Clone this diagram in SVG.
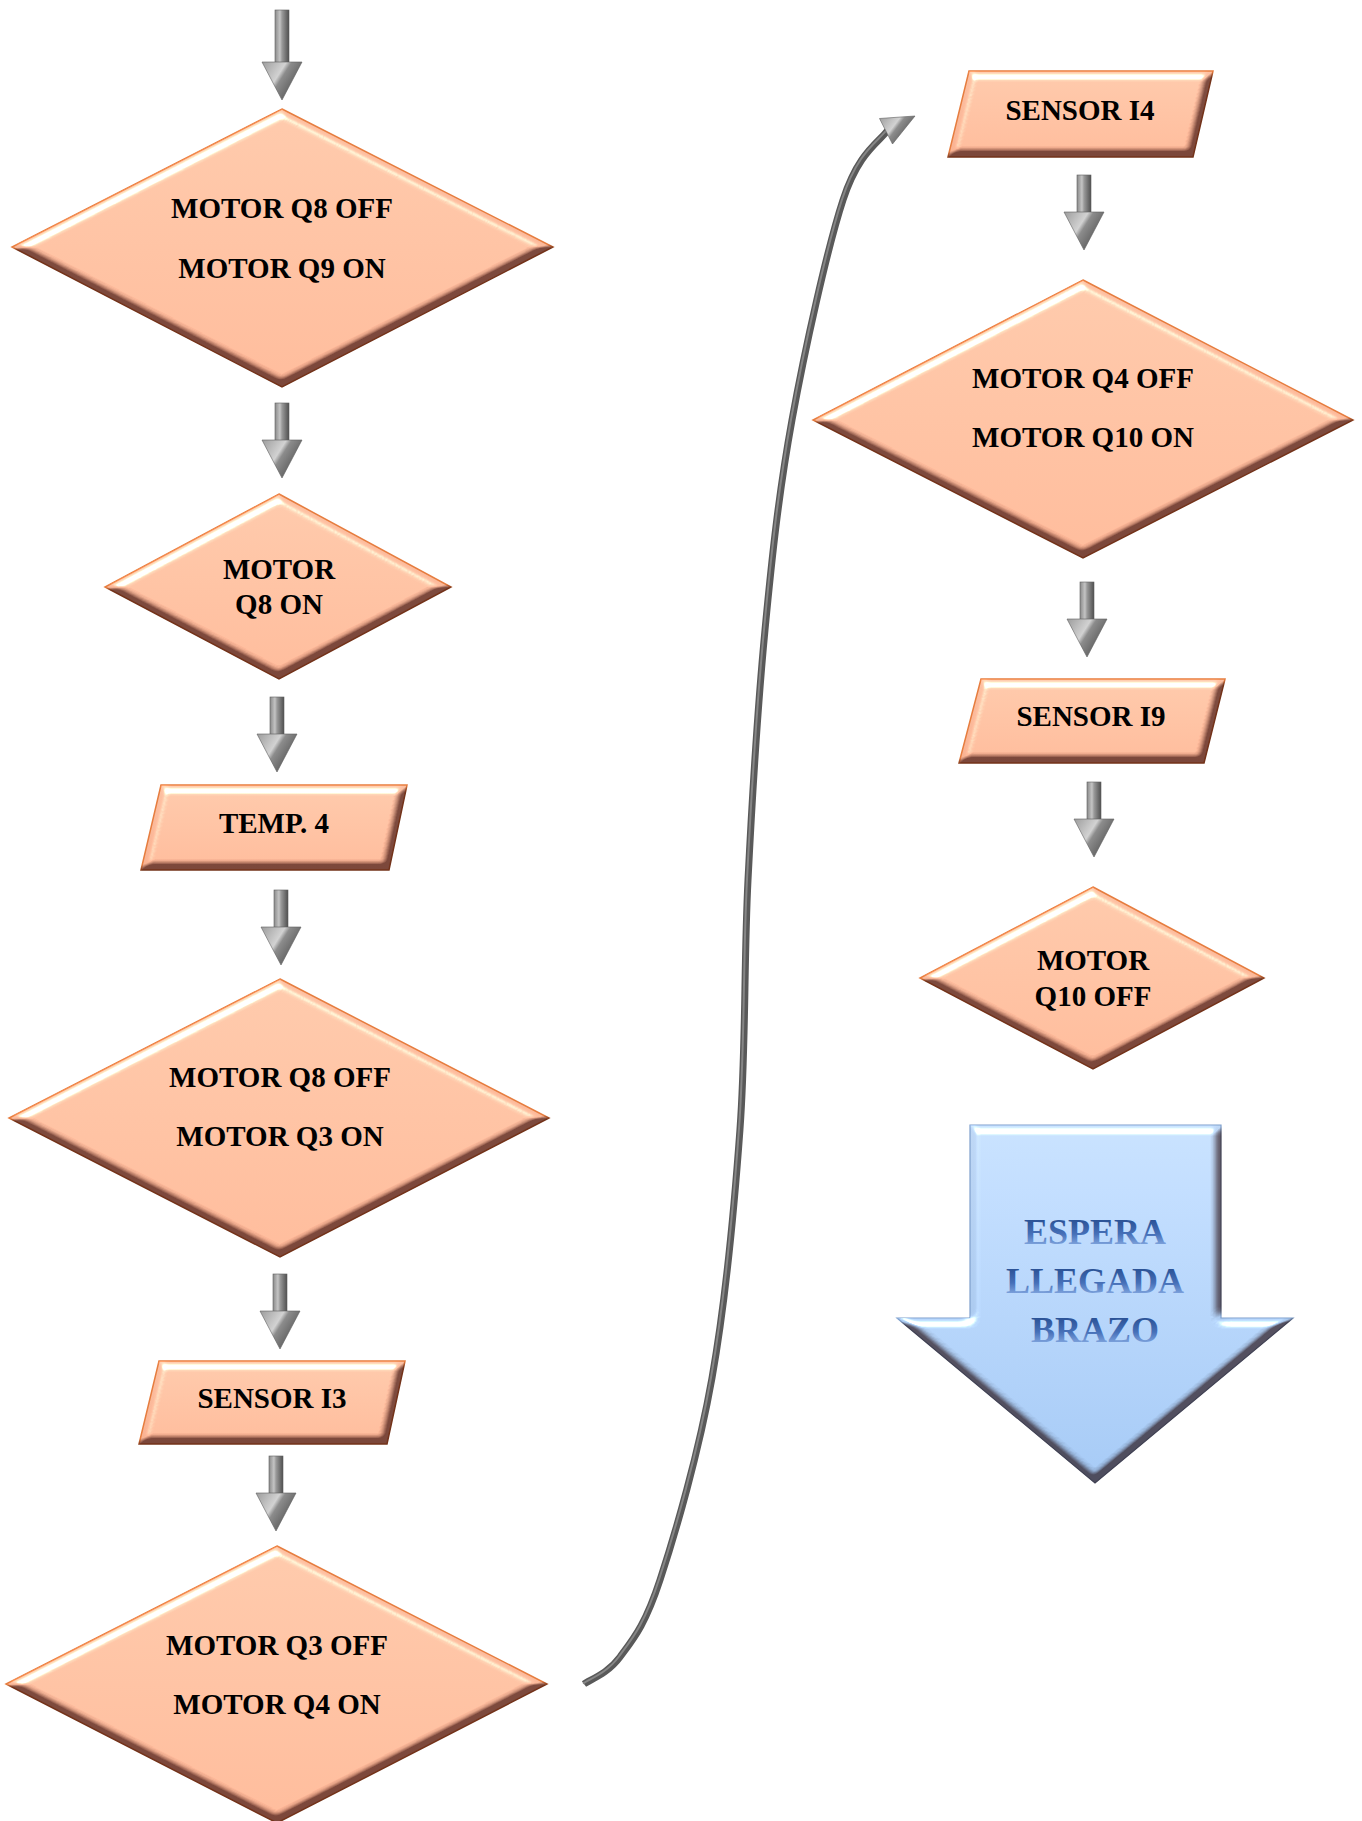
<svg xmlns="http://www.w3.org/2000/svg" width="1362" height="1821" viewBox="0 0 1362 1821">
  <defs>
    <style>
      .shape { fill: url(#peach); stroke: #E67D3F; stroke-width: 1.5; filter: url(#bevel); }
      .txt { font-family: "Liberation Serif", "Times New Roman", serif; font-weight: bold; font-size: 29px; fill: #000; text-anchor: middle; }
      .btxt { font-family: "Liberation Serif", "Times New Roman", serif; font-weight: bold; font-size: 36px; fill: url(#blueText); text-anchor: middle; }
      .shaft { fill: url(#shaftGrad); stroke: #5e5e5e; stroke-width: 0.6; }
      .head { fill: url(#headGrad); stroke: #5e5e5e; stroke-width: 0.6; }
      .curve { fill: none; stroke: #595959; stroke-width: 7; stroke-linecap: butt; }
      .curveHi { fill: none; stroke: #868686; stroke-width: 2; }
    </style>
    <linearGradient id="peach" x1="0" y1="0" x2="0" y2="1">
      <stop offset="0" stop-color="#FCC0A2"/>
      <stop offset="1" stop-color="#F9B292"/>
    </linearGradient>
    <linearGradient id="blueFill" x1="0" y1="0" x2="0" y2="1">
      <stop offset="0" stop-color="#BFD8F6"/>
      <stop offset="1" stop-color="#9CC0EB"/>
    </linearGradient>
    <linearGradient id="blueText" x1="0" y1="0" x2="0" y2="1">
      <stop offset="0.2" stop-color="#2B5296"/>
      <stop offset="0.55" stop-color="#4670B8"/>
      <stop offset="0.8" stop-color="#7A9FDA"/>
    </linearGradient>
    <linearGradient id="shaftGrad" x1="0" y1="0" x2="1" y2="0">
      <stop offset="0" stop-color="#8a8a8a"/>
      <stop offset="0.35" stop-color="#c4c4c4"/>
      <stop offset="0.5" stop-color="#9a9a9a"/>
      <stop offset="1" stop-color="#505050"/>
    </linearGradient>
    <linearGradient id="headGrad" x1="0" y1="0" x2="1" y2="0.6">
      <stop offset="0" stop-color="#9c9c9c"/>
      <stop offset="0.45" stop-color="#d2d2d2"/>
      <stop offset="0.55" stop-color="#8c8c8c"/>
      <stop offset="1" stop-color="#505050"/>
    </linearGradient>
    <!-- soft inner bevel: diffuse shading for the lower edges, specular glint on the upper edges -->
    <filter id="bevel" x="-5%" y="-5%" width="110%" height="110%" color-interpolation-filters="sRGB">
      <feGaussianBlur in="SourceAlpha" stdDeviation="4" result="b"/>
      <feDiffuseLighting in="b" surfaceScale="9" diffuseConstant="2" lighting-color="#fff" result="d">
        <feDistantLight azimuth="250" elevation="30"/>
      </feDiffuseLighting>
      <feComponentTransfer in="d" result="d2">
        <feFuncR type="linear" slope="0.5" intercept="0.5"/>
        <feFuncG type="linear" slope="0.6" intercept="0.4"/>
        <feFuncB type="linear" slope="0.6" intercept="0.4"/>
      </feComponentTransfer>
      <feComposite in="SourceGraphic" in2="d2" operator="arithmetic" k1="1" k2="0" k3="0" k4="0" result="shaded"/>
      <feSpecularLighting in="b" surfaceScale="9" specularConstant="1.1" specularExponent="22" lighting-color="#fff" result="s">
        <feDistantLight azimuth="250" elevation="30"/>
      </feSpecularLighting>
      <feComposite in="s" in2="SourceAlpha" operator="in" result="sIn"/>
      <feComposite in="shaded" in2="sIn" operator="arithmetic" k1="0" k2="1" k3="0.9" k4="0"/>
    </filter>
  </defs>

  <rect x="0" y="0" width="1362" height="1821" fill="#fff"/>

  <!-- connectors -->
  <g id="connectors">
    <g transform="translate(282,10)"><rect class="shaft" x="-7" y="0" width="14" height="53"/><polygon class="head" points="-20,52 20,52 0,90"/></g>
    <g transform="translate(282,403)"><rect class="shaft" x="-7" y="0" width="14" height="38"/><polygon class="head" points="-20,37 20,37 0,75"/></g>
    <g transform="translate(277,697)"><rect class="shaft" x="-7" y="0" width="14" height="38"/><polygon class="head" points="-20,37 20,37 0,75"/></g>
    <g transform="translate(281,890)"><rect class="shaft" x="-7" y="0" width="14" height="38"/><polygon class="head" points="-20,37 20,37 0,75"/></g>
    <g transform="translate(280,1274)"><rect class="shaft" x="-7" y="0" width="14" height="38"/><polygon class="head" points="-20,37 20,37 0,75"/></g>
    <g transform="translate(276,1456)"><rect class="shaft" x="-7" y="0" width="14" height="38"/><polygon class="head" points="-20,37 20,37 0,75"/></g>
    <g transform="translate(1084,175)"><rect class="shaft" x="-7" y="0" width="14" height="38"/><polygon class="head" points="-20,37 20,37 0,75"/></g>
    <g transform="translate(1087,582)"><rect class="shaft" x="-7" y="0" width="14" height="38"/><polygon class="head" points="-20,37 20,37 0,75"/></g>
    <g transform="translate(1094,782)"><rect class="shaft" x="-7" y="0" width="14" height="38"/><polygon class="head" points="-20,37 20,37 0,75"/></g>

    <!-- long curved link from the bottom of the left column to the top of the right column -->
    <g id="curved-link">
      <path class="curve" d="M584,1684 C590,1679.5 607.3,1674.3 620,1657 C632.7,1639.7 644.7,1626.5 660,1580 C675.3,1533.5 698.7,1453.2 712,1378 C725.3,1302.8 734,1212 740,1129 C746,1046 743.8,963.2 748,880 C752.2,796.8 757.7,706.7 765,630 C772.3,553.3 779,491.7 792,420 C805,348.3 827.3,248.2 843,200 C858.7,151.8 878.8,142.5 888,130"/>
      <path class="curveHi" d="M584,1684 C590,1679.5 607.3,1674.3 620,1657 C632.7,1639.7 644.7,1626.5 660,1580 C675.3,1533.5 698.7,1453.2 712,1378 C725.3,1302.8 734,1212 740,1129 C746,1046 743.8,963.2 748,880 C752.2,796.8 757.7,706.7 765,630 C772.3,553.3 779,491.7 792,420 C805,348.3 827.3,248.2 843,200 C858.7,151.8 878.8,142.5 888,130" transform="translate(-1,-0.5)"/>
      <polygon class="head" points="879.5,118.5 915,116 892.5,144"/>
    </g>
  </g>

  <!-- left column -->
  <g id="n-q8off-q9on">
    <polygon class="shape" points="282,109 553,247 282,387 12,247"/>
    <text class="txt" x="282" y="218">MOTOR Q8 OFF</text>
    <text class="txt" x="282" y="278">MOTOR Q9 ON</text>
  </g>
  <g id="n-q8on">
    <polygon class="shape" points="279,494 451,587 279,679 105,587"/>
    <text class="txt" x="279" y="579">MOTOR</text>
    <text class="txt" x="279" y="614">Q8 ON</text>
  </g>
  <g id="n-temp4">
    <polygon class="shape" points="161,785 407,785 389,870 141,870"/>
    <text class="txt" x="274" y="833">TEMP. 4</text>
  </g>
  <g id="n-q8off-q3on">
    <polygon class="shape" points="280,979 549,1118 280,1257 9,1118"/>
    <text class="txt" x="280" y="1087">MOTOR Q8 OFF</text>
    <text class="txt" x="280" y="1146">MOTOR Q3 ON</text>
  </g>
  <g id="n-sensor-i3">
    <polygon class="shape" points="159,1361 405,1361 387,1444 139,1444"/>
    <text class="txt" x="272" y="1408">SENSOR I3</text>
  </g>
  <g id="n-q3off-q4on">
    <polygon class="shape" points="277,1546 547,1684 277,1823 6,1684"/>
    <text class="txt" x="277" y="1655">MOTOR Q3 OFF</text>
    <text class="txt" x="277" y="1714">MOTOR Q4 ON</text>
  </g>

  <!-- right column -->
  <g id="n-sensor-i4">
    <polygon class="shape" points="969,71 1213,71 1193,157 948,157"/>
    <text class="txt" x="1080" y="120">SENSOR I4</text>
  </g>
  <g id="n-q4off-q10on">
    <polygon class="shape" points="1083,280 1353,420 1083,558 813,420"/>
    <text class="txt" x="1083" y="388">MOTOR Q4 OFF</text>
    <text class="txt" x="1083" y="447">MOTOR Q10 ON</text>
  </g>
  <g id="n-sensor-i9">
    <polygon class="shape" points="981,679 1225,679 1204,763 959,763"/>
    <text class="txt" x="1091" y="726">SENSOR I9</text>
  </g>
  <g id="n-q10off">
    <polygon class="shape" points="1093,887 1264,978 1093,1069 920,978"/>
    <text class="txt" x="1093" y="970">MOTOR</text>
    <text class="txt" x="1093" y="1006">Q10 OFF</text>
  </g>
  <g id="n-espera">
    <polygon points="970,1125 1221,1125 1221,1318 1293,1318 1095,1483 897,1318 970,1318" fill="url(#blueFill)" stroke="#7E9FCC" stroke-width="1.2" filter="url(#bevel)"/>
    <text class="btxt" x="1095" y="1244">ESPERA</text>
    <text class="btxt" x="1095" y="1293">LLEGADA</text>
    <text class="btxt" x="1095" y="1342">BRAZO</text>
  </g>
</svg>
